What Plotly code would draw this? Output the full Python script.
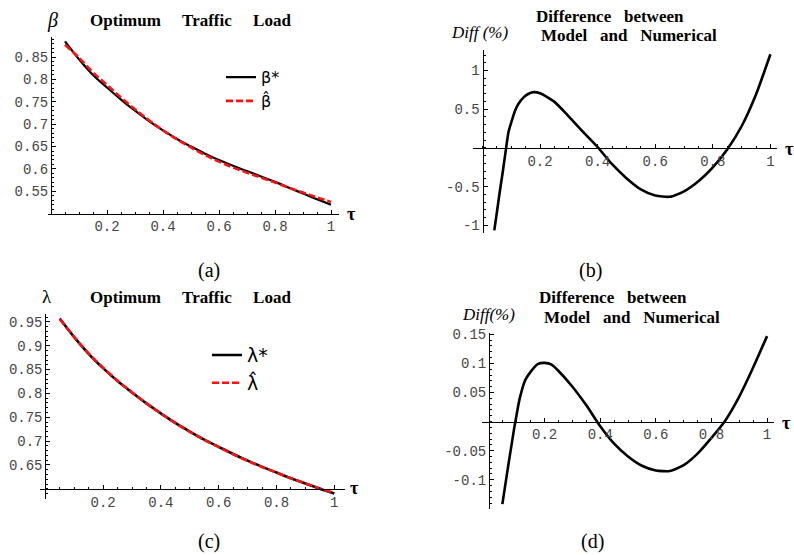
import plotly.graph_objects as go

# ---------------------------------------------------------------- data
tau = [0.05, 0.10, 0.15, 0.20, 0.25, 0.30, 0.35, 0.40, 0.45, 0.50,
       0.55, 0.60, 0.65, 0.70, 0.75, 0.80, 0.85, 0.90, 0.95, 1.00]

beta_star = [0.885, 0.845, 0.810, 0.782, 0.755, 0.730, 0.707, 0.686, 0.667, 0.650,
             0.634, 0.620, 0.607, 0.595, 0.583, 0.571, 0.558, 0.545, 0.532, 0.520]
beta_hat = [0.8775, 0.8484, 0.8155, 0.7876, 0.7595, 0.7331, 0.7086, 0.6862, 0.6659, 0.6479,
            0.6310, 0.6163, 0.6031, 0.5915, 0.5804, 0.5697, 0.5580, 0.5473, 0.5363, 0.5263]

lambda_star = [0.957, 0.918, 0.883, 0.853, 0.826, 0.802, 0.779, 0.758, 0.738, 0.720,
               0.703, 0.688, 0.673, 0.659, 0.646, 0.634, 0.622, 0.611, 0.600, 0.590]
lambda_hat = [0.9557, 0.9182, 0.8838, 0.8539, 0.8267, 0.8024, 0.7791, 0.7579, 0.7377, 0.7195,
              0.7025, 0.6874, 0.6724, 0.6585, 0.6457, 0.6338, 0.6220, 0.6113, 0.6006, 0.5909]

diff_tau_beta = [0.041, 0.050, 0.061, 0.070, 0.082, 0.090, 0.100, 0.113, 0.125, 0.142,
                 0.160, 0.175, 0.20, 0.25, 0.30, 0.35, 0.40, 0.45, 0.50, 0.55,
                 0.60, 0.65, 0.70, 0.75, 0.80, 0.85, 0.90, 0.95, 1.00]
diff_beta = [-1.065, -0.83, -0.54, -0.32, 0.00, 0.20, 0.33, 0.48, 0.57, 0.65,
             0.70, 0.72, 0.705, 0.595, 0.405, 0.205, 0.01, -0.21, -0.39, -0.535,
             -0.615, -0.63, -0.56, -0.43, -0.25, -0.02, 0.28, 0.69, 1.21]

diff_tau_lambda = [0.048, 0.06, 0.07, 0.08, 0.09, 0.10, 0.11, 0.13, 0.15, 0.175,
                   0.20, 0.225, 0.25, 0.30, 0.35, 0.40, 0.45, 0.50, 0.55, 0.60,
                   0.65, 0.70, 0.75, 0.80, 0.85, 0.90, 0.95, 1.00]
diff_lambda = [-0.142, -0.104, -0.073, -0.043, -0.013, 0.014, 0.039, 0.071, 0.086, 0.099,
               0.101, 0.098, 0.087, 0.060, 0.028, -0.008, -0.038, -0.060, -0.076, -0.084,
               -0.085, -0.075, -0.055, -0.028, 0.002, 0.043, 0.093, 0.147]

tau_ticks = [0.2, 0.4, 0.6, 0.8, 1.0]
tau_labels = ["0.2", "0.4", "0.6", "0.8", "1"]
beta_ticks = [0.55, 0.60, 0.65, 0.70, 0.75, 0.80, 0.85]
beta_labels = ["0.55", "0.6", "0.65", "0.7", "0.75", "0.8", "0.85"]
lambda_ticks = [0.65, 0.70, 0.75, 0.80, 0.85, 0.90, 0.95]
lambda_labels = ["0.65", "0.7", "0.75", "0.8", "0.85", "0.9", "0.95"]
diffb_ticks = [-1.0, -0.5, 0.5, 1.0]
diffb_labels = ["-1", "-0.5", "0.5", "1"]
diffd_ticks = [-0.10, -0.05, 0.05, 0.10, 0.15]
diffd_labels = ["-0.1", "-0.05", "0.05", "0.1", "0.15"]

# ---------------------------------------------------------------- layout helpers
W, H = 794, 555


def fx(p):
    return p / W


def fy(p):
    return 1 - p / H


TICK_FONT = dict(family="Liberation Mono", size=14, color="#454545")
SERIF = "Liberation Serif"

fig = go.Figure()

# panel geometry: x-domain px, y-domain px (top, bottom), ranges, crossing points
panels = {
    "a": dict(xd=(48.2, 339.4), yd=(31.8, 210.7), xr=(-0.01, 1.03), yr=(0.5, 0.894),
              xcross=0.5, ycross=0.0, yt=(beta_ticks, beta_labels), ymin=0.01),
    "b": dict(xd=(473.0, 777.3), yd=(45.0, 230.0), xr=(-0.033, 1.024), yr=(-1.094, 1.26),
              xcross=0.0, ycross=0.0, yt=(diffb_ticks, diffb_labels), ymin=0.1),
    "c": dict(xd=(40.1, 345.0), yd=(313.0, 500.0), xr=(-0.018, 1.037), yr=(0.579, 0.9655),
              xcross=0.6, ycross=0.0, yt=(lambda_ticks, lambda_labels), ymin=0.01),
    "d": dict(xd=(481.8, 774.0), yd=(331.7, 510.0), xr=(-0.026, 1.025), yr=(-0.1497, 0.1525),
              xcross=0.0, ycross=0.0, yt=(diffd_ticks, diffd_labels), ymin=0.01),
}

axis_ids = {"a": ("x", "y", ""), "b": ("x2", "y2", "2"), "c": ("x3", "y3", "3"), "d": ("x4", "y4", "4")}

layout_axes = {}
for key, p in panels.items():
    xid, yid, n = axis_ids[key]
    x0, x1 = fx(p["xd"][0]), fx(p["xd"][1])
    y0, y1 = fy(p["yd"][1]), fy(p["yd"][0])
    # paper position where the horizontal axis crosses the vertical one
    xpos = y0 + (p["xcross"] - p["yr"][0]) / (p["yr"][1] - p["yr"][0]) * (y1 - y0)
    ypos = x0 + (p["ycross"] - p["xr"][0]) / (p["xr"][1] - p["xr"][0]) * (x1 - x0)
    layout_axes["xaxis" + n] = dict(
        domain=[x0, x1], range=list(p["xr"]), anchor="free", position=xpos,
        showgrid=False, zeroline=False, showline=True, linecolor="black", linewidth=1,
        ticks="inside", ticklen=4, tickcolor="black", tickwidth=1,
        tickmode="array", tickvals=tau_ticks, ticktext=tau_labels, tickfont=TICK_FONT,
        minor=dict(tickmode="linear", tick0=0, dtick=0.05, ticks="inside", ticklen=2,
                   tickcolor="black", tickwidth=1),
        fixedrange=True,
    )
    layout_axes["yaxis" + n] = dict(
        domain=[y0, y1], range=list(p["yr"]), anchor="free", position=ypos,
        showgrid=False, zeroline=False, showline=True, linecolor="black", linewidth=1,
        ticks="inside", ticklen=4, tickcolor="black", tickwidth=1,
        tickmode="array", tickvals=p["yt"][0], ticktext=p["yt"][1], tickfont=TICK_FONT,
        minor=dict(tickmode="linear", tick0=0, dtick=p["ymin"], ticks="inside", ticklen=2,
                   tickcolor="black", tickwidth=1),
        fixedrange=True,
    )

RED_DASH = dict(color="#ff1010", width=2.6, dash="7px,3px")

# (a) optimum traffic load beta
fig.add_trace(go.Scatter(x=tau, y=beta_star, mode="lines", name="β*",
                         line=dict(color="black", width=2.2, shape="spline"),
                         xaxis="x", yaxis="y", legend="legend"))
fig.add_trace(go.Scatter(x=tau, y=beta_hat, mode="lines", name="β\u0302",
                         line=dict(**RED_DASH, shape="spline"),
                         xaxis="x", yaxis="y", legend="legend"))
# (b) difference for beta
fig.add_trace(go.Scatter(x=diff_tau_beta, y=diff_beta, mode="lines", showlegend=False,
                         line=dict(color="black", width=2.6, shape="spline", smoothing=0.6),
                         xaxis="x2", yaxis="y2"))
# (c) optimum traffic load lambda
fig.add_trace(go.Scatter(x=tau, y=lambda_star, mode="lines", name="λ*",
                         line=dict(color="black", width=2.6, shape="spline"),
                         xaxis="x3", yaxis="y3", legend="legend2"))
fig.add_trace(go.Scatter(x=tau, y=lambda_hat, mode="lines", name="λ\u0302",
                         line=dict(**RED_DASH, shape="spline"),
                         xaxis="x3", yaxis="y3", legend="legend2"))
# (d) difference for lambda
fig.add_trace(go.Scatter(x=diff_tau_lambda, y=diff_lambda, mode="lines", showlegend=False,
                         line=dict(color="black", width=2.6, shape="spline", smoothing=0.6),
                         xaxis="x4", yaxis="y4"))

NB = "\u00a0"


def note(text, px, py, size=15, bold=False, italic=False, family=SERIF, anchor="center"):
    if bold:
        text = "<b>" + text + "</b>"
    if italic:
        text = "<i>" + text + "</i>"
    return dict(text=text, x=fx(px), y=fy(py), xref="paper", yref="paper",
                xanchor=anchor, yanchor="middle", showarrow=False,
                font=dict(family=family, size=size, color="black"))


title_load = "Optimum" + NB * 5 + "Traffic" + NB * 5 + "Load"
line1 = "Difference" + NB * 3 + "between"
line2 = "Model" + NB * 3 + "and" + NB * 3 + "Numerical"

annotations = [
    note("β", 53, 15, size=20, italic=True),
    note(title_load, 190, 15, size=17, bold=True),
    note("τ", 351, 211, size=18, bold=True),
    note("Diff (%)", 480, 27, size=17, italic=True),
    note(line1, 610, 11, size=17, bold=True),
    note(line2, 629, 30, size=17, bold=True),
    note("τ", 789, 145, size=18, bold=True),
    note("λ", 47, 295, size=19),
    note(title_load, 190, 296, size=17, bold=True),
    note("τ", 354, 489, size=18, bold=True),
    note("Diff(%)", 488, 313, size=17, italic=True),
    note(line1, 613, 296, size=17, bold=True),
    note(line2, 632, 316, size=17, bold=True),
    note("τ", 786, 423, size=18, bold=True),
    note("(a)", 209, 268, size=20),
    note("(b)", 590, 268, size=20),
    note("(c)", 209, 543, size=20),
    note("(d)", 592, 543, size=20),
]

legend_style = dict(bgcolor="rgba(0,0,0,0)", borderwidth=0, tracegroupgap=0,
                    xanchor="left", yanchor="top", itemwidth=30)

fig.update_layout(
    width=W, height=H,
    margin=dict(l=0, r=0, t=0, b=0),
    paper_bgcolor="white", plot_bgcolor="rgba(0,0,0,0)",
    showlegend=True,
    legend=dict(x=fx(221), y=fy(55), font=dict(family="DejaVu Sans", size=16, color="black"),
                **legend_style),
    legend2=dict(x=fx(207), y=fy(335), font=dict(family="DejaVu Sans", size=19, color="black"),
                 **legend_style),
    annotations=annotations,
    **layout_axes,
)

fig.write_html("out.html")
